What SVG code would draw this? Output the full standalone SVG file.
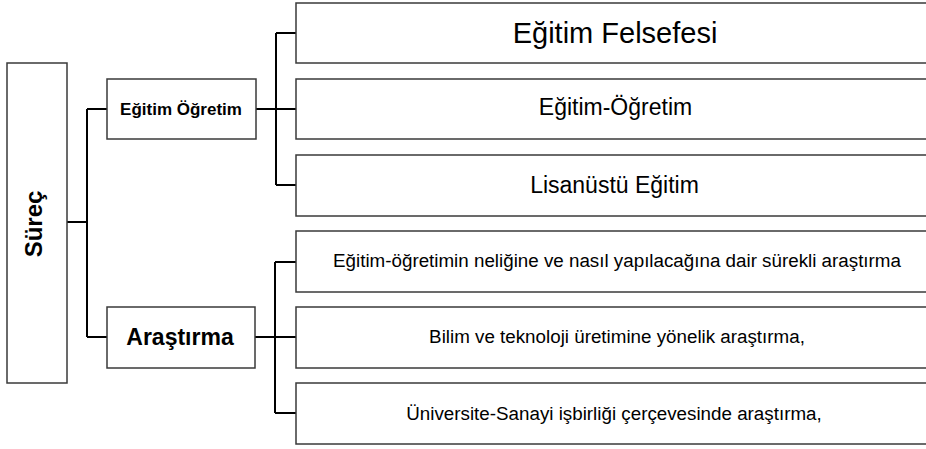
<svg xmlns="http://www.w3.org/2000/svg" width="926" height="449" viewBox="0 0 926 449">
<style>
.box{fill:#ffffff;stroke:#3a3a3a;stroke-width:1.5}
.conn{fill:none;stroke:#000000;stroke-width:2}
.t{font-family:"Liberation Sans",Arial,sans-serif;fill:#000000;text-anchor:middle}
.b{font-weight:bold}
.s{font-size:18.8px}
</style>
<rect width="926" height="449" fill="#ffffff"/>
<g id="connectors">
<path class="conn" d="M67,222 H87 M87,109 V337 M87,109 H107 M87,337 H107"/>
<path class="conn" d="M256,109 H276 M276,33 V185 M276,33 H296 M276,109 H296 M276,185 H296"/>
<path class="conn" d="M255,337 H275 M275,262 V413 M275,262 H296 M275,337 H296 M275,413 H296"/>
</g>
<g id="surec">
<rect class="box" x="7" y="63" width="60" height="320"/>
<text class="t b" font-size="24" transform="translate(42,224) rotate(-90)">Süreç</text>
</g>
<g id="egitim-ogretim">
<rect class="box" x="107" y="79" width="149" height="60"/>
<text class="t b" x="181" y="115" font-size="17">Eğitim Öğretim</text>
</g>
<g id="arastirma">
<rect class="box" x="107" y="307" width="148" height="61"/>
<text class="t b" x="180" y="345" font-size="23">Araştırma</text>
</g>
<g id="felsefe">
<rect class="box" x="296" y="3" width="660" height="60"/>
<text class="t" x="615" y="43" font-size="29">Eğitim Felsefesi</text>
</g>
<g id="egitim-ogretim-2">
<rect class="box" x="296" y="79" width="660" height="60"/>
<text class="t" x="615.5" y="115" font-size="23">Eğitim-Öğretim</text>
</g>
<g id="lisansustu">
<rect class="box" x="296" y="155" width="660" height="61"/>
<text class="t" x="614.5" y="193" font-size="23">Lisanüstü Eğitim</text>
</g>
<g id="arastirma-1">
<rect class="box" x="296" y="231" width="660" height="61"/>
<text class="t s" x="617" y="267">Eğitim-öğretimin neliğine ve nasıl yapılacağına dair sürekli araştırma</text>
</g>
<g id="arastirma-2">
<rect class="box" x="296" y="307" width="660" height="61"/>
<text class="t s" x="617" y="343">Bilim ve teknoloji üretimine yönelik araştırma,</text>
</g>
<g id="arastirma-3">
<rect class="box" x="296" y="383" width="660" height="61"/>
<text class="t s" x="614" y="420">Üniversite-Sanayi işbirliği çerçevesinde araştırma,</text>
</g>
</svg>
